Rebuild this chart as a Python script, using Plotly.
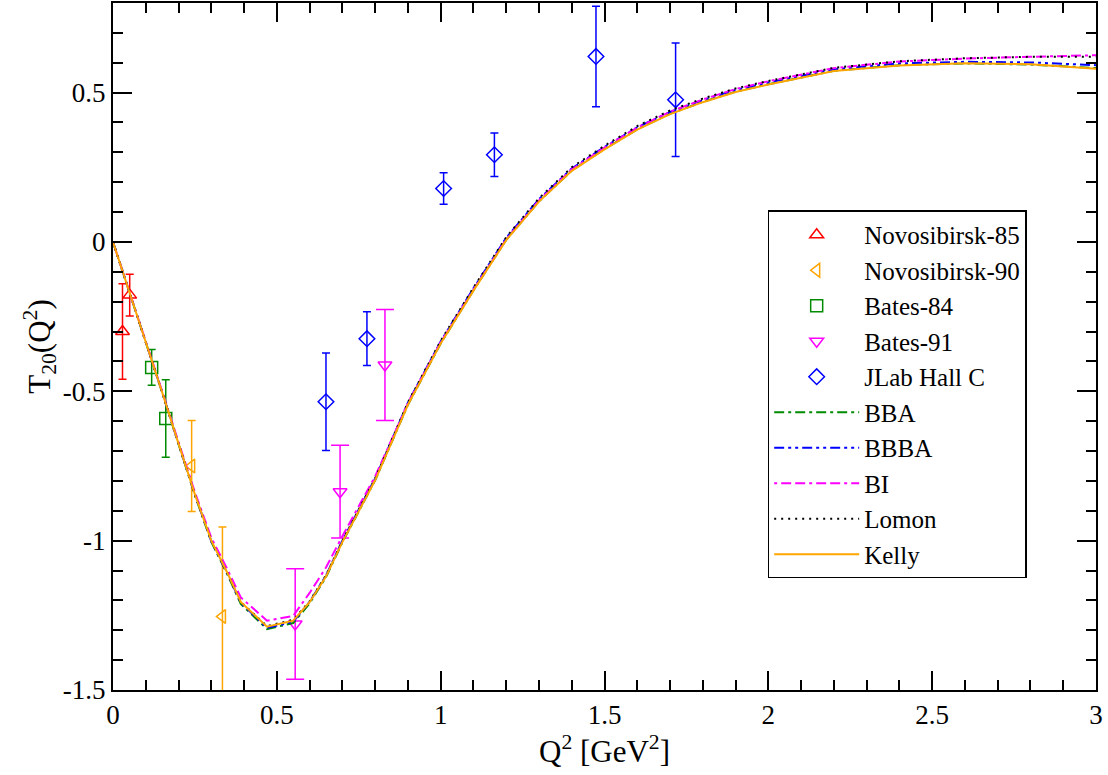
import plotly.graph_objects as go

# ---------------- data ----------------
nov85_x = [0.029, 0.051]
nov85_y = [-0.300, -0.178]
nov85_err = [0.160, 0.070]

nov90_x = [0.240, 0.334]
nov90_y = [-0.750, -1.254]
nov90_err = [0.152, 0.300]

bates84_x = [0.118, 0.161]
bates84_y = [-0.420, -0.591]
bates84_err = [0.060, 0.130]

bates91_x = [0.556, 0.693, 0.830]
bates91_y = [-1.279, -0.836, -0.412]
bates91_err = [0.185, 0.155, 0.186]

jlab_x = [0.650, 0.775, 1.009, 1.164, 1.474, 1.717]
jlab_y = [-0.535, -0.324, 0.179, 0.292, 0.621, 0.476]
jlab_err = [0.163, 0.090, 0.053, 0.073, 0.168, 0.190]

curve_x = [0.0, 0.05, 0.1, 0.15, 0.2, 0.25, 0.3, 0.35, 0.39, 0.47, 0.55, 0.6,
           0.65, 0.7, 0.8, 0.9, 1.0, 1.1, 1.2, 1.3, 1.4, 1.5, 1.6, 1.7, 1.8,
           1.9, 2.0, 2.2, 2.4, 2.6, 2.8, 3.0]

kelly_y = [0.0, -0.166, -0.334, -0.503, -0.675, -0.845, -1.000, -1.110, -1.205,
           -1.288, -1.268, -1.206, -1.120, -1.005, -0.798, -0.545, -0.340,
           -0.163, 0.006, 0.135, 0.238, 0.310, 0.376, 0.428, 0.468, 0.502,
           0.527, 0.572, 0.591, 0.598, 0.595, 0.580]

bba_y = [0.0, -0.166, -0.334, -0.504, -0.677, -0.848, -1.004, -1.115, -1.212,
         -1.296, -1.276, -1.210, -1.122, -1.006, -0.798, -0.545, -0.340,
         -0.162, 0.007, 0.136, 0.239, 0.311, 0.377, 0.429, 0.469, 0.503,
         0.528, 0.573, 0.592, 0.598, 0.594, 0.582]

bbba_y = [0.0, -0.166, -0.334, -0.503, -0.676, -0.846, -1.002, -1.112, -1.208,
          -1.292, -1.272, -1.205, -1.117, -1.000, -0.792, -0.538, -0.333,
          -0.155, 0.014, 0.143, 0.246, 0.318, 0.384, 0.435, 0.475, 0.509,
          0.534, 0.578, 0.598, 0.603, 0.601, 0.592]

bi_y = [0.0, -0.165, -0.332, -0.500, -0.670, -0.838, -0.990, -1.098, -1.190,
        -1.268, -1.252, -1.175, -1.090, -0.985, -0.785, -0.540, -0.336,
        -0.160, 0.009, 0.139, 0.243, 0.316, 0.383, 0.436, 0.477, 0.512,
        0.538, 0.582, 0.604, 0.614, 0.620, 0.625]

lomon_y = [0.0, -0.166, -0.334, -0.503, -0.675, -0.845, -1.000, -1.110, -1.205,
           -1.286, -1.265, -1.203, -1.116, -1.000, -0.792, -0.537, -0.331,
           -0.153, 0.016, 0.146, 0.250, 0.322, 0.388, 0.440, 0.480, 0.514,
           0.539, 0.583, 0.605, 0.615, 0.620, 0.620]

x_ticks = [0, 0.5, 1, 1.5, 2, 2.5, 3]
x_ticktext = ["0", "0.5", "1", "1.5", "2", "2.5", "3"]
y_ticks = [-1.5, -1, -0.5, 0, 0.5]
y_ticktext = ["-1.5", "-1", "-0.5", "0", "0.5"]

# ---------------- styling ----------------
FONT = "Liberation Serif"
RED = "#ff0000"
ORANGE = "#ffa500"
GREEN = "#008b00"
MAGENTA = "#ff00ff"
BLUE = "#0000ff"

fig = go.Figure()


def add_points(x, y, err, name, symbol, color, capw):
    fig.add_trace(go.Scatter(
        x=x, y=y, mode="markers", name=name,
        marker=dict(symbol=symbol, size=12, color=color,
                    line=dict(color=color, width=1.5)),
        error_y=dict(type="data", array=err, visible=True, color=color,
                     thickness=1.5, width=capw),
    ))


add_points(nov85_x, nov85_y, nov85_err, "Novosibirsk-85", "triangle-up-open", RED, 4)
add_points(nov90_x, nov90_y, nov90_err, "Novosibirsk-90", "triangle-left-open", ORANGE, 4)
add_points(bates84_x, bates84_y, bates84_err, "Bates-84", "square-open", GREEN, 4)
add_points(bates91_x, bates91_y, bates91_err, "Bates-91", "triangle-down-open", MAGENTA, 9)
add_points(jlab_x, jlab_y, jlab_err, "JLab Hall C", "diamond-open", BLUE, 4)


def add_curve(y, name, color, dash):
    fig.add_trace(go.Scatter(
        x=curve_x, y=y, mode="lines", name=name,
        line=dict(color=color, width=2, dash=dash),
    ))


add_curve(bba_y, "BBA", GREEN, "10px,4px,3px,4px")
add_curve(bbba_y, "BBBA", BLUE, "10px,4px,3px,4px,3px,4px")
add_curve(bi_y, "BI", MAGENTA, "3px,4px,10px,4px,10px,4px")
add_curve(lomon_y, "Lomon", "#000000", "2px,5px")
add_curve(kelly_y, "Kelly", ORANGE, "solid")

axis_common = dict(
    showline=True, linecolor="black", linewidth=2, mirror="ticks",
    ticks="inside", ticklen=19, tickwidth=1.5, tickcolor="black",
    showgrid=False, zeroline=False,
    tickfont=dict(family=FONT, size=27, color="black"),
)

fig.update_xaxes(
    range=[0, 3], tickmode="array", tickvals=x_ticks, ticktext=x_ticktext,
    minor=dict(ticks="inside", ticklen=10, tickwidth=1.5, tickcolor="black",
               dtick=0.1, tick0=0, showgrid=False),
    title=dict(text="Q<sup>2</sup> [GeV<sup>2</sup>]",
               font=dict(family=FONT, size=31, color="black"), standoff=2),
    **axis_common,
)
fig.update_yaxes(
    range=[-1.5, 0.8], tickmode="array", tickvals=y_ticks, ticktext=y_ticktext,
    minor=dict(ticks="inside", ticklen=10, tickwidth=1.5, tickcolor="black",
               dtick=0.1, tick0=0, showgrid=False),
    title=dict(text="T<sub>20</sub>(Q<sup>2</sup>)",
               font=dict(family=FONT, size=31, color="black"), standoff=3),
    **axis_common,
)

fig.update_layout(
    width=1108, height=775,
    margin=dict(l=113, r=12, t=3, b=85, autoexpand=False),
    paper_bgcolor="white", plot_bgcolor="white",
    font=dict(family=FONT, size=24, color="black"),
    showlegend=True,
    legend=dict(
        x=0.666, y=0.698, xanchor="left", yanchor="top",
        bgcolor="white", bordercolor="black", borderwidth=1.5,
        font=dict(family=FONT, size=25, color="black"),
        itemwidth=85, tracegroupgap=0,
    ),
)

fig.write_html("out.html", config={"displayModeBar": False},
               post_script="document.body.style.margin='0';")
